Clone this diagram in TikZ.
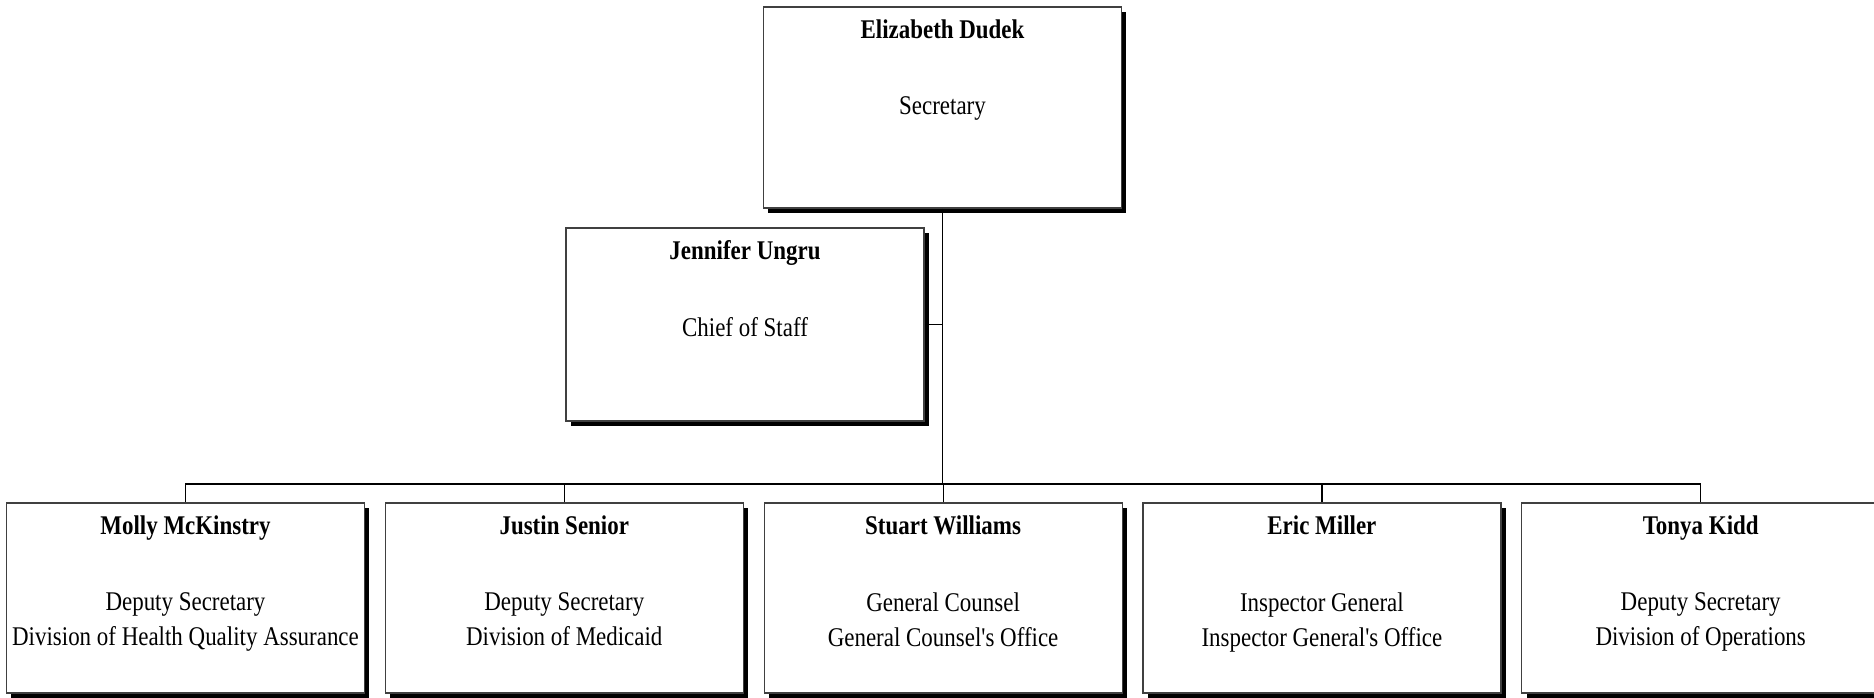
\documentclass[tikz,border=0pt]{standalone}
\usepackage{fontspec}
\setmainfont[FakeStretch=0.85,Ligatures=TeXOff]{Liberation Serif}
\usetikzlibrary{positioning,shadows}

\begin{document}
\begin{tikzpicture}[x=0.5pt,y=-0.5pt,node distance=9.8pt]
		\tikzstyle{post}=[rectangle, draw=black!75, line width=0.6pt, fill=white, minimum width=179pt, minimum height=95pt,
			drop shadow={shadow xshift=2.4pt, shadow yshift=-2.4pt, fill=black, opacity=1}]
		\tikzstyle{who}=[font=\fontsize{13.5}{17.5}\selectfont\bfseries, anchor=base, inner sep=0pt]
		\tikzstyle{role}=[font=\fontsize{13.5}{17.5}\selectfont, align=center, anchor=north, inner sep=0pt]
		\tikzstyle{wire}=[line width=0.6pt]

		\useasboundingbox (0,0) rectangle (1874,697);

		\node [post, minimum height=100.5pt] (sec) at (942.5,107.5) {};
		\node [post, minimum height=96.5pt] (cos) at (745,324.5) {};
		\node [post] (hqa) at (185.5,598) {};
		\node [post] (med) [right=of hqa] {};
		\node [post] (gco) [right=of med] {};
		\node [post] (oig) [right=of gco] {};
		\node [post] (ops) [right=of oig] {};

		\coordinate (bus) at (943,484);
		\draw [wire] (sec.south) -- (sec.south |- bus);
		\draw [wire] (cos.east) -- (cos.east -| sec.south);
		\draw [wire] (hqa.north) |- (ops.north |- bus) -- (ops.north);
		\draw [wire] (med.north) -- (med.north |- bus);
		\draw [wire] (gco.north) -- (gco.north |- bus);
		\draw [wire] (oig.north) -- (oig.north |- bus);

		\node [who] (sec name) at ([yshift=-16pt]sec.north) {Elizabeth Dudek};
		\node [role] (sec role) at ([yshift=-45pt]sec.north) {Secretary};
		\node [who] (cos name) at ([yshift=-16pt]cos.north) {Jennifer Ungru};
		\node [role] (cos role) at ([yshift=-45pt]cos.north) {Chief of Staff};
		\node [who] (hqa name) at ([yshift=-16pt]hqa.north) {Molly McKinstry};
		\node [role] (hqa role) at ([yshift=-45pt]hqa.north) {Deputy Secretary\\Division of Health Quality Assurance};
		\node [who] (med name) at ([yshift=-16pt]med.north) {Justin Senior};
		\node [role] (med role) at ([yshift=-45pt]med.north) {Deputy Secretary\\Division of Medicaid};
		\node [who] (gco name) at ([yshift=-16pt]gco.north) {Stuart Williams};
		\node [role] (gco role) at ([yshift=-45pt]gco.north) {General Counsel\\General Counsel's Office};
		\node [who] (oig name) at ([yshift=-16pt]oig.north) {Eric Miller};
		\node [role] (oig role) at ([yshift=-45pt]oig.north) {Inspector General\\Inspector General's Office};
		\node [who] (ops name) at ([yshift=-16pt]ops.north) {Tonya Kidd};
		\node [role] (ops role) at ([yshift=-45pt]ops.north) {Deputy Secretary\\Division of Operations};
	\end{tikzpicture}
\end{document}
